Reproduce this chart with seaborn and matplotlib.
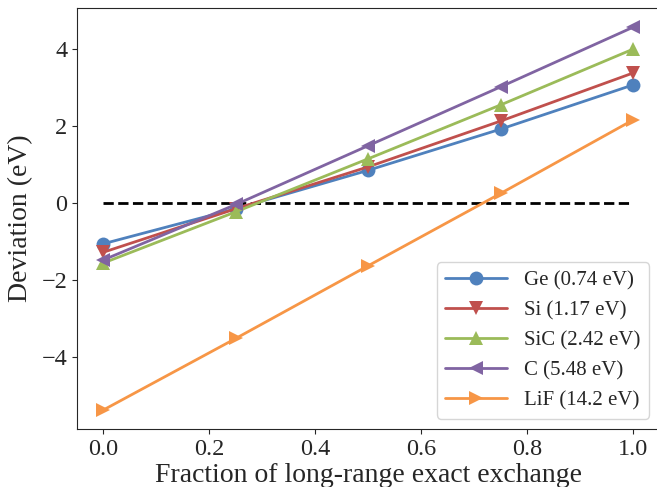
import matplotlib
matplotlib.use("Agg")
import matplotlib.pyplot as plt
import seaborn as sns
import pandas as pd

fractions = [0.0, 0.25, 0.5, 0.75, 1.0]
ge = [-1.06, -0.15, 0.85, 1.92, 3.07]
si = [-1.28, -0.15, 0.94, 2.13, 3.38]
sic = [-1.56, -0.23, 1.15, 2.55, 4.00]
c = [-1.48, -0.04, 1.49, 3.02, 4.57]
lif = [-5.38, -3.52, -1.63, 0.25, 2.16]
labels = ["Ge (0.74 eV)", "Si (1.17 eV)", "SiC (2.42 eV)", "C (5.48 eV)", "LiF (14.2 eV)"]
colors = ["#4f81bd", "#c0504d", "#9bbb59", "#8064a2", "#f79646"]
markers = ["o", "v", "^", "<", ">"]

sns.set_style("ticks")
plt.rcParams["font.family"] = ["Liberation Serif", "DejaVu Serif"]

rows = []
for lab, vals in zip(labels, [ge, si, sic, c, lif]):
    for f, v in zip(fractions, vals):
        rows.append({"Fraction": f, "Deviation": v, "Material": lab})
df = pd.DataFrame(rows)

fig = plt.figure(figsize=(6.57, 4.87), dpi=100)
ax = fig.add_axes([0.1172, 0.119, 0.887, 0.8646])
ax.plot([0, 1], [0, 0], "k--", lw=2, zorder=1)
for lab, col, mk in zip(labels, colors, markers):
    sub = df[df["Material"] == lab]
    sns.lineplot(data=sub, x="Fraction", y="Deviation", ax=ax, color=col,
                 marker=mk, markersize=10, markeredgewidth=0, lw=2, label=lab)
ax.set_xlabel("Fraction of long-range exact exchange", fontsize=20, labelpad=2)
ax.set_ylabel("Deviation (eV)", fontsize=20, labelpad=6)
ax.tick_params(labelsize=17.5)
ax.set_xticks([0.0, 0.2, 0.4, 0.6, 0.8, 1.0])
ax.set_yticks([-4, -2, 0, 2, 4])
ax.set_yticklabels(["\u22124", "\u22122", "0", "2", "4"])
ax.margins(x=0.05, y=0.05)
ax.legend(loc="lower right", fontsize=15, handlelength=3, bbox_to_anchor=(0.999, 0.0))
fig.savefig("out.png", dpi=100)
